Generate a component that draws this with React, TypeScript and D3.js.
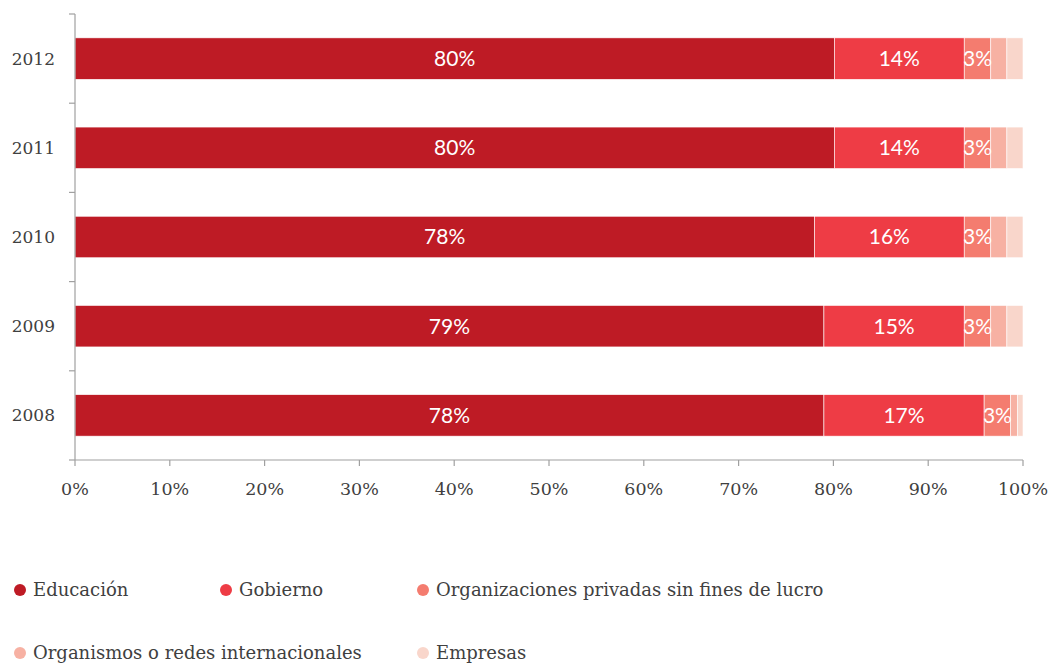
import React, { useEffect, useRef } from "react";
import * as d3 from "d3";

const years = ["2012", "2011", "2010", "2009", "2008"];
const seriesNames = [
  "Educación",
  "Gobierno",
  "Organizaciones privadas sin fines de lucro",
  "Organismos o redes internacionales",
  "Empresas",
];
const educacion = [80.1, 80.1, 78.0, 79.0, 79.0];
const gobierno = [13.7, 13.7, 15.8, 14.8, 16.9];
const privadas = [2.8, 2.8, 2.8, 2.8, 2.8];
const internacionales = [1.7, 1.7, 1.7, 1.7, 0.7];
const empresas = [1.7, 1.7, 1.7, 1.7, 0.6];
const educacionLabels = ["80%", "80%", "78%", "79%", "78%"];
const gobiernoLabels = ["14%", "14%", "16%", "15%", "17%"];
const privadasLabels = ["3%", "3%", "3%", "3%", "3%"];
const xTicks = [0, 10, 20, 30, 40, 50, 60, 70, 80, 90, 100];
const colors = ["#BE1B25", "#EE3C45", "#F47C6F", "#F7B1A3", "#F9D6CB"];

const W = 1054;
const H = 665;
const margin = { left: 75, right: 31, top: 14, bottom: 205 };

export default function App() {
  const ref = useRef<SVGSVGElement>(null);
  useEffect(() => {
    const svg = d3.select(ref.current);
    svg.selectAll("*").remove();
    const series = [educacion, gobierno, privadas, internacionales, empresas];
    const labels = [educacionLabels, gobiernoLabels, privadasLabels, null, null];

    const x = d3.scaleLinear().domain([0, 100]).range([margin.left, W - margin.right]);
    const y = d3
      .scaleBand()
      .domain(years)
      .range([margin.top, H - margin.bottom])
      .paddingInner(0.535)
      .paddingOuter(0.2675);

    const rows = years.map((yr, i) => {
      let acc = 0;
      return series.map((s, k) => {
        const x0 = acc;
        acc += s[i];
        return { yr, k, x0, x1: acc, label: labels[k] ? labels[k]![i] : null };
      });
    });

    const g = svg.append("g");
    rows.forEach((segs) => {
      segs.forEach((d) => {
        g.append("rect")
          .attr("x", x(d.x0))
          .attr("y", y(d.yr)!)
          .attr("width", Math.max(0, x(d.x1) - x(d.x0)))
          .attr("height", y.bandwidth())
          .attr("fill", colors[d.k])
          .attr("stroke", "#ffffff")
          .attr("stroke-width", 0.6);
      });
    });
    rows.forEach((segs) => {
      segs.forEach((d) => {
        if (d.label) {
          g.append("text")
            .attr("x", (x(d.x0) + x(d.x1)) / 2)
            .attr("y", y(d.yr)! + y.bandwidth() / 2)
            .attr("dy", "0.35em")
            .attr("text-anchor", "middle")
            .attr("fill", "#ffffff")
            .style("font-family", "Lato, 'Liberation Sans', sans-serif")
            .style("font-size", "21px")
            .text(d.label);
        }
      });
    });

    const axisColor = "#A0A0A0";
    const textColor = "#404040";
    const serif = "'DejaVu Serif', serif";

    // y axis
    const y0 = margin.top;
    const y1 = H - margin.bottom;
    svg.append("line")
      .attr("x1", margin.left).attr("x2", margin.left)
      .attr("y1", y0).attr("y2", y1)
      .attr("stroke", axisColor).attr("stroke-width", 1.2);
    const bounds = d3.range(years.length + 1).map((i) => y0 + (y1 - y0) * (i / years.length));
    bounds.forEach((b) => {
      svg.append("line")
        .attr("x1", margin.left - 6).attr("x2", margin.left)
        .attr("y1", b).attr("y2", b)
        .attr("stroke", axisColor).attr("stroke-width", 1.2);
    });
    years.forEach((yr) => {
      svg.append("text")
        .attr("x", 55)
        .attr("y", y(yr)! + y.bandwidth() / 2)
        .attr("dy", "0.35em")
        .attr("text-anchor", "end")
        .attr("fill", textColor)
        .style("font-family", serif)
        .style("font-size", "17px")
        .text(yr);
    });

    // x axis
    svg.append("line")
      .attr("x1", margin.left).attr("x2", x(100))
      .attr("y1", y1).attr("y2", y1)
      .attr("stroke", axisColor).attr("stroke-width", 1.2);
    xTicks.forEach((t) => {
      svg.append("line")
        .attr("x1", x(t)).attr("x2", x(t))
        .attr("y1", y1).attr("y2", y1 + 6)
        .attr("stroke", axisColor).attr("stroke-width", 1.2);
      svg.append("text")
        .attr("x", x(t))
        .attr("y", 489)
        .attr("dy", "0.35em")
        .attr("text-anchor", "middle")
        .attr("fill", textColor)
        .style("font-family", serif)
        .style("font-size", "17.5px")
        .text(`${t}%`);
    });

    // legend
    const legendPos = [
      [20, 590],
      [226, 590],
      [423, 590],
      [20, 653],
      [423, 653],
    ];
    seriesNames.forEach((name, k) => {
      const [lx, ly] = legendPos[k];
      svg.append("circle")
        .attr("cx", lx).attr("cy", ly).attr("r", 6)
        .attr("fill", colors[k]);
      svg.append("text")
        .attr("x", lx + 13)
        .attr("y", ly)
        .attr("dy", "0.35em")
        .attr("fill", textColor)
        .style("font-family", serif)
        .style("font-size", "18px")
        .text(name);
    });
  }, []);

  return (
    <svg
      ref={ref}
      width={W}
      height={H}
      style={{ position: "absolute", left: 0, top: 0, background: "#fff" }}
    />
  );
}
